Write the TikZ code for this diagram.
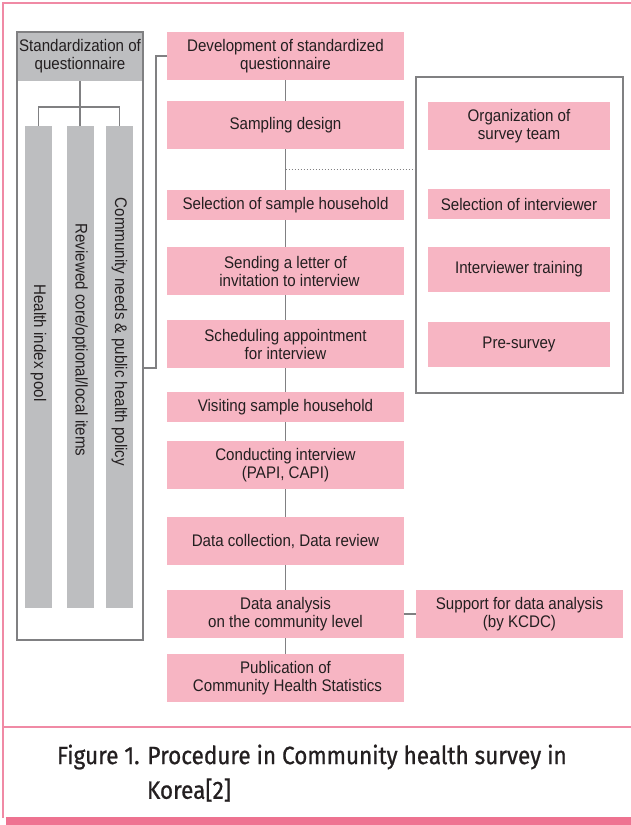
\documentclass[tikz,border=0pt]{standalone}
\usepackage{fontspec}
\setmainfont{Liberation Sans}[FakeStretch=0.9]
\newfontfamily\capfont{Fira Sans}[FakeStretch=0.9,FakeBold=0.8]
\usetikzlibrary{calc,positioning}
\definecolor{boxpink}{RGB}{247,181,195}
\definecolor{bargrey}{RGB}{189,190,192}
\definecolor{linegrey}{RGB}{128,128,130}
\definecolor{framepink}{RGB}{240,138,165}
\definecolor{barpink}{RGB}{238,115,145}
\definecolor{inkgrey}{RGB}{35,31,32}

\begin{document}
\begin{tikzpicture}[x=1pt,y=-1pt,
    node distance=20pt,
    every node/.style={font=\fontsize{16.8}{18}\selectfont,text=inkgrey,inner sep=0pt,outer sep=0pt},
    box/.style={rectangle,fill=boxpink,minimum width=237pt,minimum height=48pt,align=center},
    slim/.style={box,minimum height=30pt},
    sidebox/.style={box,minimum width=182pt},
    greybar/.style={rectangle,fill=bargrey,minimum width=27pt,minimum height=482pt},
    link/.style={draw=linegrey,line width=1.2pt},
    frame/.style={draw=linegrey,line width=1.6pt},
    dotline/.style={draw=linegrey,line width=1pt,dotted},
    capline/.style={anchor=west,font=\capfont\fontsize{25}{28}\selectfont}
  ]
    \useasboundingbox (0,0) rectangle (631,825);
    % outer page frame and caption
    \draw[framepink,line width=1.2pt] (631,3) -- (3,3) -- (3,818);
    \draw[framepink,line width=1.2pt] (3,727) -- (631,727);
    \fill[barpink] (6,817) rectangle (631,825);
    \node[capline] (cap1) at (57,757) {Figure 1. Procedure in Community health survey in};
    \node[capline] (cap2) at (147,790) {Korea[2]};

    % questionnaire box on the left
    \node[fill=bargrey,minimum width=126pt,minimum height=49pt,align=center] (qhead) at (80,56.5) {Standardization of\\questionnaire};
    \node[frame,minimum width=126pt,minimum height=608pt] (qbox) at (80,336) {};
    \node[greybar] (pool) at (38.5,367) {};
    \node[greybar] (items) at (80,367) {};
    \node[greybar] (policy) at (119.5,367) {};
    \node[rotate=-90] at ([yshift=24pt]pool.center) {Health index pool};
    \node[rotate=-90] at ([yshift=27pt]items.center) {Reviewed core/optional/local items};
    \node[rotate=-90] at ([yshift=35pt]policy.center) {Community needs \& public health policy};
    \coordinate (fork) at (80,107);
    \draw[link] (qhead.south) -- (items.north);
    \draw[link] (pool.north) |- (fork) -| (policy.north);

    % main procedure
    \node[box] (dev) at (285.5,56) {Development of standardized\\questionnaire};
    \node[box,below=21pt of dev] (samp) {Sampling design};
    \node[slim,below=41pt of samp] (hh) {Selection of sample household};
    \node[box,below=27pt of hh] (letter) {Sending a letter of\\\hspace*{8pt}invitation to interview};
    \node[box,below=25pt of letter] (sched) {Scheduling appointment\\for interview};
    \node[slim,below=24pt of sched] (visit) {Visiting sample household};
    \node[box,below=19pt of visit] (conduct) {Conducting interview\\(PAPI, CAPI)};
    \node[box,below=28pt of conduct] (collect) {Data collection, Data review};
    \node[box,below=25pt of collect] (anal) {Data analysis\\on the community level};
    \node[box,below=16pt of anal] (pub) {Publication of\\\hspace*{4pt}Community Health Statistics};
    \foreach \a/\b in {dev/samp,samp/hh,hh/letter,letter/sched,sched/visit,
                       visit/conduct,conduct/collect,collect/anal,anal/pub}
      \draw[link] (\a.south) -- (\b.north);
    \draw[link] (dev.west) -- ++(-11,0) |- (qbox.east |- sched.south);

    % survey team
    \node[frame,minimum width=207pt,minimum height=316pt] (team) at (519.5,235) {};
    \node[sidebox] (org) at (519,126) {Organization of\\survey team};
    \node[sidebox,minimum height=30pt] (selint) at (519,204) {Selection of interviewer};
    \node[sidebox,minimum height=45pt] (train) at (519,269.5) {Interviewer training};
    \node[sidebox,minimum height=45pt] (pre) at (519,344.5) {Pre-survey};
    \coordinate (dot) at ($(samp.south)!0.5!(hh.north)$);
    \draw[dotline] (dot) -- (dot -| team.west);

    % support
    \node[box,minimum width=207pt,right=12pt of anal] (kcdc) {Support for data analysis\\(by KCDC)};
    \draw[link] (anal.east) -- (kcdc.west);
  \end{tikzpicture}
\end{document}
